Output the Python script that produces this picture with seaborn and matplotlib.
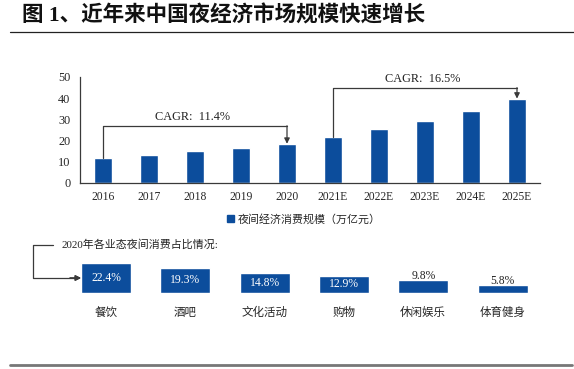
import matplotlib

matplotlib.use("Agg", force=True)
import matplotlib.pyplot as plt
import pandas as pd
import seaborn as sns
from matplotlib.lines import Line2D
from matplotlib.patches import Patch

years = ["2016", "2017", "2018", "2019", "2020", "2021E", "2022E", "2023E", "2024E", "2025E"]
scale = [12.0, 13.2, 15.0, 16.5, 18.5, 21.5, 25.3, 29.2, 34.1, 39.8]
cagr_labels = ["CAGR:  11.4%", "CAGR:  16.5%"]
cagr_spans = [(0, 4), (5, 9)]
cagr_levels = [27, 45]

sectors = ["餐饮", "酒吧", "文化活动", "购物", "休闲娱乐", "体育健身"]
shares = [22.4, 19.3, 14.8, 12.9, 9.8, 5.8]

title = "图 1、近年来中国夜经济市场规模快速增长"
legend_label = "夜间经济消费规模（万亿元）"
share_title = "2020年各业态夜间消费占比情况:"

BLUE = "#0c4d9c"
DARK = "#3a3a3a"
W, H = 574, 369

sns.set_style("white")
plt.rcParams["font.family"] = ["Liberation Serif", "Noto Sans CJK SC"]


def fx(x, y):
    return x / W, 1 - y / H


fig = plt.figure(figsize=(W / 100, H / 100), dpi=100)

# title and rules
fig.text(*fx(22, 16), title, fontsize=15.5, fontweight="bold", va="center", ha="left", color="#111111")
fig.add_artist(Line2D([10 / W, 1], [1 - 32 / H] * 2, color="#222222", lw=0.9))
fig.add_artist(Line2D([10 / W, 572 / W], [1 - 365 / H] * 2, color="#777777", lw=2))

# top chart
ax = fig.add_axes([80 / W, 1 - 183 / H, 460 / W, 106 / H])
df = pd.DataFrame({"year": years, "scale": scale})
sns.barplot(data=df, x="year", y="scale", color=BLUE, width=0.4, saturation=1, ax=ax)
ax.set_xlim(-0.5, len(years) - 0.5)
ax.set_ylim(0, 50)
ax.set_yticks(range(0, 51, 10))
ax.set_xlabel("")
ax.set_ylabel("")
for side in ("top", "right"):
    ax.spines[side].set_visible(False)
for side in ("left", "bottom"):
    ax.spines[side].set_color(DARK)
    ax.spines[side].set_linewidth(0.9)
ax.tick_params(axis="y", direction="in", length=2.5, width=0.8, color=DARK, labelsize=8.8, pad=7)
ax.tick_params(axis="x", length=0, labelsize=8.4, pad=6)

for (i0, i1), lvl, lab in zip(cagr_spans, cagr_levels, cagr_labels):
    ax.plot([i0, i0, i1], [scale[i0], lvl, lvl], color=DARK, lw=0.9, clip_on=False)
    ax.annotate("", xy=(i1, scale[i1]), xytext=(i1, lvl),
                arrowprops=dict(arrowstyle="-|>", color=DARK, lw=0.9, mutation_scale=8,
                                shrinkA=0, shrinkB=0))
    ax.text((i0 + i1) / 2 - 0.05, lvl + 1.2, lab, ha="center", va="bottom", fontsize=8.8,
            color="#222222")

fig.legend(handles=[Patch(color=BLUE, label=legend_label)], loc="center",
           bbox_to_anchor=fx(304, 219), frameon=False, fontsize=7.9,
           handlelength=0.6, handleheight=0.6, handletextpad=0.4)

# bottom share boxes
bx = fig.add_axes([66.4 / W, 1 - 293 / H, 475.8 / W, 39.6 / H])
sf = pd.DataFrame({"sector": sectors, "share": shares})
sns.barplot(data=sf, x="sector", y="share", color=BLUE, width=0.63, saturation=1, ax=bx)
bx.set_xlim(-0.5, len(sectors) - 0.5)
bx.set_ylim(0, 30)
bx.set_xlabel("")
bx.set_ylabel("")
bx.set_yticks([])
for s in bx.spines.values():
    s.set_visible(False)
bx.tick_params(axis="x", length=0, labelsize=8.3, pad=10)
for i, v in enumerate(shares):
    if v >= 12:
        bx.text(i, v / 2, f"{v}%", ha="center", va="center", color="white", fontsize=8.4)
    else:
        bx.text(i, v - 1.5, f"{v}%", ha="center", va="bottom", color="#222222", fontsize=8.4)

fig.text(*fx(62, 245), share_title, fontsize=7.9, va="center", ha="left", color="#222222")
fig.add_artist(Line2D([53 / W, 33 / W, 33 / W, 76 / W],
                      [1 - 245 / H, 1 - 245 / H, 1 - 278 / H, 1 - 278 / H], color=DARK, lw=0.9))
fig.add_artist(plt.annotate("", xy=fx(81, 278), xytext=fx(70, 278), xycoords="figure fraction",
                            arrowprops=dict(arrowstyle="-|>", color=DARK, lw=0.9,
                                            mutation_scale=8, shrinkA=0, shrinkB=0)))

fig.savefig("out.png", dpi=100)
